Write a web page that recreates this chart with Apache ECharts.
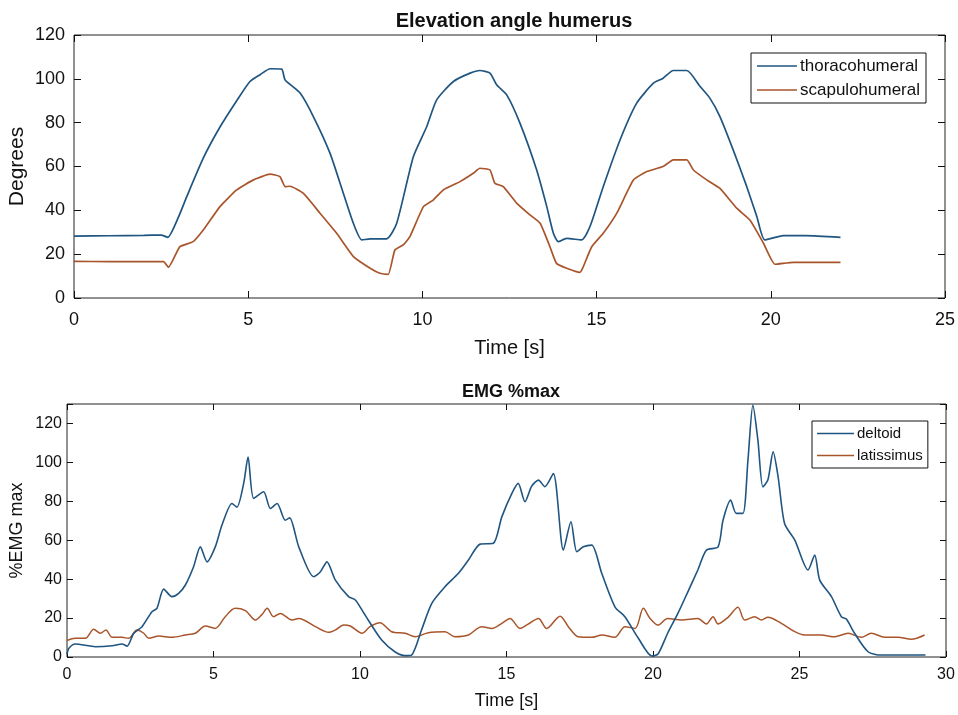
<!DOCTYPE html>
<html>
<head>
<meta charset="utf-8">
<script src="https://cdn.jsdelivr.net/npm/echarts@6/dist/echarts.min.js"></script>
<style>
  html, body { margin: 0; padding: 0; background: #fff; }
  #chart { width: 958px; height: 715px; }
</style>
</head>
<body>
<div id="chart"></div>
<script>
// Humerus elevation angles (degrees) over time (s)
const thoracoT = [0, 1, 2, 2.5, 2.69, 3.0, 3.23, 3.71, 4.19, 4.67, 5.05, 5.35, 5.63, 5.96, 6.06, 6.49, 6.87, 7.35, 7.73, 8.02, 8.26, 8.5, 8.97, 9.26, 9.74, 10.12, 10.41, 10.89, 11.37, 11.65, 11.94, 12.13, 12.42, 12.8, 13.28, 13.57, 13.76, 13.9, 14.14, 14.57, 14.81, 15.19, 15.67, 16.15, 16.63, 16.91, 17.2, 17.59, 17.97, 18.25, 18.54, 18.92, 19.31, 19.6, 19.83, 20.36, 21, 22];
const thoracoV = [28.2, 28.4, 28.6, 28.7, 27.7, 37, 46, 63.8, 78, 90, 98.8, 102, 104.6, 104.4, 99.5, 93.5, 82.8, 66, 47.8, 34, 26.5, 27, 27, 34, 64.5, 78, 90.4, 98.8, 102.6, 103.8, 102.6, 97.3, 92.7, 79.8, 58.4, 41.7, 29.5, 25.7, 27.2, 26.5, 32.6, 50.8, 72, 88.9, 98, 100.3, 103.8, 103.8, 96.5, 91.2, 82.8, 67.6, 50.8, 37.1, 26.5, 28.5, 28.5, 27.7];

const scapT = [0, 1, 2, 2.57, 2.71, 3.04, 3.42, 3.71, 4.19, 4.67, 5.15, 5.63, 5.91, 6.06, 6.2, 6.58, 7.06, 7.54, 8.02, 8.5, 8.78, 9.02, 9.21, 9.45, 9.64, 10.03, 10.31, 10.6, 11.08, 11.46, 11.65, 11.94, 12.08, 12.32, 12.71, 13.09, 13.38, 13.66, 13.85, 14.14, 14.52, 14.6, 14.86, 15.19, 15.58, 16.06, 16.44, 16.91, 17.2, 17.59, 17.78, 18.16, 18.54, 19.02, 19.4, 19.79, 20.12, 20.65, 22];
const scapV = [16.7, 16.6, 16.6, 16.6, 14, 23.4, 25.7, 31, 41.7, 49.3, 53.9, 56.5, 55.4, 50.8, 51, 47.8, 38.7, 29.5, 18.9, 13.6, 11.3, 10.8, 21.9, 24.2, 28, 41.7, 44.7, 49.3, 53.1, 56.9, 59.2, 58.4, 52.4, 50.8, 43.2, 37.9, 34.1, 23.4, 15.8, 13.6, 11.7, 13.6, 23.4, 29.5, 38.7, 53.9, 57.7, 60, 63, 63, 58.4, 53.9, 50, 41, 35.6, 25, 15.4, 16.3, 16.3];

// Muscle activity (% of max EMG) over time (s)
const deltT = [0, 0.06, 0.28, 0.97, 1.54, 1.88, 2.05, 2.28, 2.56, 2.9, 3.07, 3.3, 3.58, 3.81, 4.04, 4.32, 4.55, 4.78, 5.06, 5.29, 5.63, 5.8, 6.03, 6.18, 6.37, 6.71, 6.94, 7.17, 7.45, 7.6, 7.91, 8.42, 8.65, 8.87, 9.16, 9.61, 9.84, 10.07, 10.28, 10.74, 11.19, 11.54, 11.76, 12.1, 12.45, 12.9, 13.36, 13.7, 14.1, 14.55, 14.84, 15.18, 15.4, 15.63, 15.86, 16.09, 16.31, 16.6, 16.94, 17.2, 17.4, 17.62, 17.91, 18.25, 18.7, 19.04, 19.5, 19.96, 20.17, 20.5, 20.85, 21.19, 21.53, 21.82, 22.22, 22.39, 22.65, 22.84, 23.07, 23.24, 23.41, 23.58, 23.75, 23.92, 24.1, 24.27, 24.49, 24.84, 25.29, 25.52, 25.69, 26.09, 26.43, 26.6, 26.88, 27.34, 27.79, 29.3];
const deltV = [1.5, 4.4, 6.7, 5.3, 5.8, 6.7, 5.6, 12.2, 15.6, 23.3, 25, 34.9, 31, 32.7, 37, 46.4, 56.6, 48.9, 56.6, 67.8, 78.9, 77, 89.2, 102.8, 81.5, 84.9, 76.3, 78.9, 70.3, 71.5, 56.6, 41.2, 43.8, 48.9, 39.5, 31, 29.3, 24.1, 19, 8.7, 2.7, 0.7, 1, 13.9, 27.6, 36.1, 43, 49.8, 58, 58.4, 72, 84, 89.2, 79.8, 87.8, 90.9, 87.5, 94.3, 54.9, 69.5, 54.1, 56.6, 57.5, 43, 25.8, 20.7, 9.6, 0.5, 1.5, 12.2, 22.4, 33.5, 44.7, 54.9, 56.6, 70.3, 80.6, 73.8, 73.8, 101, 129.4, 111.4, 87.4, 90.9, 105.4, 92.6, 68.6, 60.1, 44.7, 52.4, 39.5, 31, 20.7, 19.5, 12.2, 2.7, 1, 1];

const latT = [0, 0.28, 0.63, 0.91, 1.14, 1.33, 1.54, 1.88, 2.1, 2.39, 2.62, 2.79, 3.13, 3.58, 4.04, 4.38, 4.72, 5.06, 5.4, 5.74, 6.09, 6.43, 6.66, 6.83, 7.05, 7.28, 7.68, 7.91, 8.48, 8.93, 9.16, 9.44, 9.67, 10.07, 10.34, 10.68, 11.08, 11.54, 11.88, 12.33, 12.9, 13.24, 13.7, 14.15, 14.5, 14.84, 15.12, 15.46, 15.74, 16.09, 16.37, 16.83, 17.11, 17.45, 17.91, 18.25, 18.7, 19.04, 19.39, 19.67, 19.9, 20.17, 20.5, 20.97, 21.53, 21.82, 22.05, 22.22, 22.56, 22.9, 23.13, 23.47, 23.7, 23.92, 24.38, 24.84, 25.17, 25.74, 26.2, 26.66, 27.11, 27.45, 27.91, 28.36, 28.82, 29.27];
const latV = [8.5, 9.6, 9.6, 14.2, 12.2, 13.9, 10.1, 10.1, 9.6, 13.9, 12.2, 9.6, 10.8, 10.1, 11.3, 12.2, 15.9, 14.7, 20.7, 25, 23.8, 19, 21.9, 25, 20.7, 22.4, 19, 19.8, 15.6, 12.7, 13.9, 16.4, 15.9, 12.2, 15.6, 17.6, 13, 12.2, 10.4, 12.5, 13, 10.4, 11.3, 15.6, 14.7, 17.3, 19.8, 14.7, 16.9, 19.8, 14.7, 21, 15.6, 10.4, 10.1, 11.3, 10.1, 15.6, 14.7, 25, 19.8, 16.4, 19.8, 19, 19.8, 17, 20.7, 17, 20.4, 25.5, 19, 20.7, 19, 20.4, 17.3, 13, 11.3, 11.3, 10.4, 12.2, 10.1, 12.2, 10.1, 10.1, 9.1, 11.3];

const pairs = (t, v) => t.map((x, i) => [x, v[i]]);

const FONT = '"Liberation Sans", Arial, sans-serif';
const BLUE = '#1f5580';
const ORANGE = '#a9552b';

function tickAxis(gridIndex, min, max, interval, position, len, fontSize, margin, extra) {
  return Object.assign({
    type: 'value', gridIndex, min, max, interval, position,
    nameMoveOverlap: false,
    axisLine: { show: false, onZero: false },
    axisTick: { show: true, inside: true, length: len, lineStyle: { color: '#111', width: 1 } },
    splitLine: { show: false },
    axisLabel: { show: true, color: '#111', fontSize, fontFamily: FONT, margin }
  }, extra || {});
}
// Unlabelled axis that only repeats the ticks on the opposite edge of the box
function mirrorAxis(gridIndex, min, max, interval, position, len) {
  return {
    type: 'value', gridIndex, min, max, interval, position,
    axisLine: { show: false, onZero: false },
    axisTick: { show: true, inside: true, length: len, lineStyle: { color: '#111', width: 1 } },
    splitLine: { show: false },
    axisLabel: { show: false }
  };
}

const chart = echarts.init(document.getElementById('chart'), null, { renderer: 'canvas' });

chart.setOption({
  backgroundColor: '#fff',
  animation: false,
  title: [
    { text: 'Elevation angle humerus', left: 509, top: 6, textAlign: 'center',
      textStyle: { fontSize: 20, fontWeight: 'bold', color: '#111', fontFamily: FONT } },
    { text: 'EMG %max', left: 506, top: 378, textAlign: 'center',
      textStyle: { fontSize: 18, fontWeight: 'bold', color: '#111', fontFamily: FONT } }
  ],
  grid: [
    { left: 74, top: 35, width: 871, height: 263, show: true, borderColor: '#222', borderWidth: 1,
      containLabel: false, outerBoundsMode: 'none' },
    { left: 67, top: 404, width: 879, height: 253, show: true, borderColor: '#222', borderWidth: 1,
      containLabel: false, outerBoundsMode: 'none' }
  ],
  xAxis: [
    tickAxis(0, 0, 25, 5, 'bottom', 7, 18, 13,
      { name: 'Time [s]', nameLocation: 'middle', nameGap: 40,
        nameTextStyle: { fontSize: 20, color: '#111', fontFamily: FONT } }),
    mirrorAxis(0, 0, 25, 5, 'top', 7),
    tickAxis(1, 0, 30, 5, 'bottom', 6, 16, 10,
      { name: 'Time [s]', nameLocation: 'middle', nameGap: 35,
        nameTextStyle: { fontSize: 18, color: '#111', fontFamily: FONT } }),
    mirrorAxis(1, 0, 30, 5, 'top', 6)
  ],
  yAxis: [
    tickAxis(0, 0, 120, 20, 'left', 7, 18, 9,
      { name: 'Degrees', nameLocation: 'middle', nameGap: 46,
        nameTextStyle: { fontSize: 21, color: '#111', fontFamily: FONT } }),
    mirrorAxis(0, 0, 120, 20, 'right', 7),
    tickAxis(1, 0, 130, 20, 'left', 6, 16, 5,
      { name: '%EMG max', nameLocation: 'middle', nameGap: 41,
        nameTextStyle: { fontSize: 18, color: '#111', fontFamily: FONT },
        axisLabel: { color: '#111', fontSize: 16, fontFamily: FONT, margin: 5,
          formatter: v => (v % 20 === 0 ? String(v) : '') } }),
    mirrorAxis(1, 0, 130, 20, 'right', 6)
  ],
  legend: [
    { data: ['thoracohumeral', 'scapulohumeral'], left: 751, top: 53, orient: 'vertical',
      icon: 'rect', itemWidth: 40, itemHeight: 1.6, itemGap: 6,
      padding: [4, 6, 4, 6], borderColor: '#111', borderWidth: 1, backgroundColor: '#fff',
      textStyle: { fontSize: 17, color: '#111', fontFamily: FONT, lineHeight: 18, padding: [0, 0, 0, -2] } },
    { data: ['deltoid', 'latissimus'], left: 812, top: 421, orient: 'vertical',
      icon: 'rect', itemWidth: 37, itemHeight: 1.6, itemGap: 5,
      padding: [4, 5, 4, 5], borderColor: '#111', borderWidth: 1, backgroundColor: '#fff',
      textStyle: { fontSize: 15, color: '#111', fontFamily: FONT, lineHeight: 17, padding: [0, 0, 0, -2] } }
  ],
  series: [
    { name: 'thoracohumeral', type: 'line', xAxisIndex: 0, yAxisIndex: 0,
      data: pairs(thoracoT, thoracoV), showSymbol: false, smooth: 0.2,
      lineStyle: { color: BLUE, width: 1.7 }, itemStyle: { color: BLUE } },
    { name: 'scapulohumeral', type: 'line', xAxisIndex: 0, yAxisIndex: 0,
      data: pairs(scapT, scapV), showSymbol: false, smooth: 0.15,
      lineStyle: { color: ORANGE, width: 1.7 }, itemStyle: { color: ORANGE } },
    { name: 'latissimus', type: 'line', xAxisIndex: 2, yAxisIndex: 2,
      data: pairs(latT, latV), showSymbol: false, smooth: 0.3,
      lineStyle: { color: ORANGE, width: 1.5 }, itemStyle: { color: ORANGE } },
    { name: 'deltoid', type: 'line', xAxisIndex: 2, yAxisIndex: 2,
      data: pairs(deltT, deltV), showSymbol: false, smooth: 0.25,
      lineStyle: { color: BLUE, width: 1.6 }, itemStyle: { color: BLUE } }
  ]
});
</script>
</body>
</html>
